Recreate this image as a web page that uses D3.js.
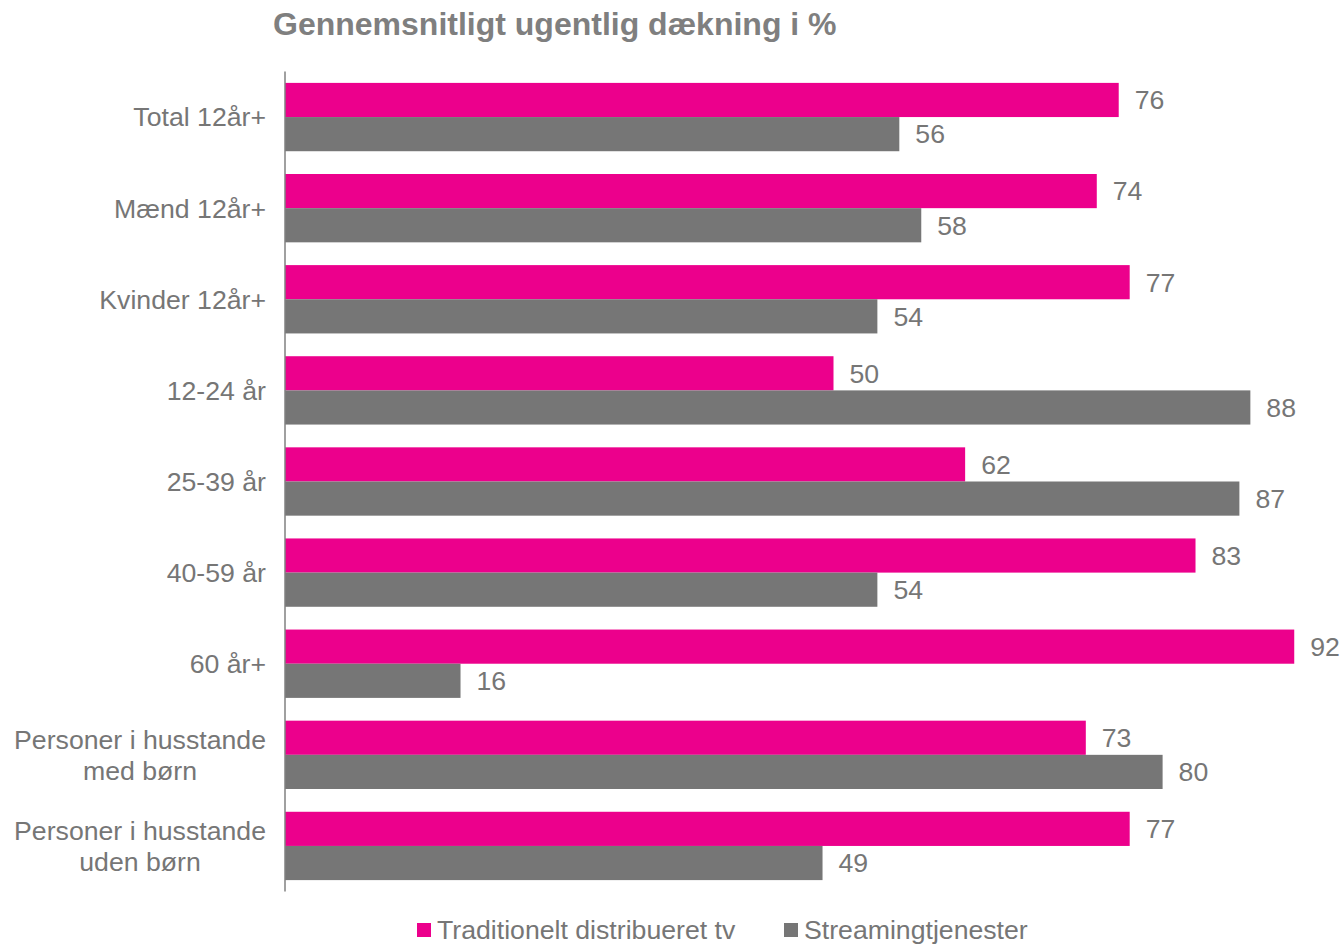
<!DOCTYPE html>
<html>
<head>
<meta charset="utf-8">
<script src="https://cdn.jsdelivr.net/npm/d3@7"></script>
<style>
  html, body { margin: 0; padding: 0; background: #ffffff; }
  svg { display: block; font-family: "Liberation Sans", Arial, sans-serif; }
</style>
</head>
<body>
<svg id="chart" width="1342" height="944"></svg>
<script>
// Categories (label lines) and the two series, in percent
const categories = [
  ["Total 12år+"],
  ["Mænd 12år+"],
  ["Kvinder 12år+"],
  ["12-24 år"],
  ["25-39 år"],
  ["40-59 år"],
  ["60 år+"],
  ["Personer i husstande", "med børn"],
  ["Personer i husstande", "uden børn"]
];
const traditionelTv = [76, 74, 77, 50, 62, 83, 92, 73, 77];
const streaming     = [56, 58, 54, 88, 87, 54, 16, 80, 49];
const seriesNames = ["Traditionelt distribueret tv", "Streamingtjenester"];
const titleText = "Gennemsnitligt ugentlig dækning i %";

const colors = ["#EC008C", "#767676"];
const textColor = "#767676";

const svg = d3.select("#chart");

const plotLeft = 285, plotTop = 71.5, plotBottom = 891.5;

const x = d3.scaleLinear().domain([0, 96]).range([plotLeft, plotLeft + 96 * 10.97]);
const y = d3.scaleBand()
  .domain(d3.range(categories.length))
  .range([plotTop, plotBottom])
  .paddingInner(0.25)
  .paddingOuter(0.125);
const ySub = d3.scaleBand().domain([0, 1]).range([0, y.bandwidth()]);

// Title
svg.append("text")
  .attr("x", 273).attr("y", 35)
  .attr("font-size", 32).attr("font-weight", "bold")
  .attr("fill", "#7F7F7F")
  .text(titleText);

const rows = categories.map((c, i) => ({ i, label: c, vals: [traditionelTv[i], streaming[i]] }));

// Bars
const g = svg.append("g");
const group = g.selectAll("g.row").data(rows).join("g")
  .attr("class", "row")
  .attr("transform", d => `translate(0,${y(d.i)})`);

group.selectAll("rect").data(d => d.vals.map((v, k) => ({ v, k }))).join("rect")
  .attr("x", x(0))
  .attr("y", d => ySub(d.k))
  .attr("width", d => x(d.v) - x(0))
  .attr("height", ySub.bandwidth())
  .attr("fill", d => colors[d.k]);

// Value labels
group.selectAll("text.val").data(d => d.vals.map((v, k) => ({ v, k }))).join("text")
  .attr("class", "val")
  .attr("x", d => x(d.v) + 16)
  .attr("y", d => ySub(d.k) + ySub.bandwidth() / 2)
  .attr("dy", "0.35em")
  .attr("font-size", 26.67)
  .attr("fill", textColor)
  .text(d => d.v);

// Vertical axis line
const axis = d3.axisLeft(y).tickSize(0).tickFormat(() => "");
const axisG = svg.append("g").attr("transform", `translate(${plotLeft},0)`).call(axis);
axisG.select(".domain").attr("stroke", "#808080").attr("stroke-width", 1.5)
  .attr("d", `M0,${plotTop}V${plotBottom}`);

// Category labels (multi-line labels are centred as a block, right aligned to the axis)
const labelRight = 266;
const lineH = 31;
rows.forEach(d => {
  const cy = y(d.i) + y.bandwidth() / 2;
  const t = svg.append("text")
    .attr("font-size", 26.67)
    .attr("fill", textColor);
  const n = d.label.length;
  const spans = d.label.map((line, j) => t.append("tspan")
    .attr("y", cy + (j - (n - 1) / 2) * lineH)
    .attr("dy", "0.35em")
    .text(line));
  if (n === 1) {
    t.attr("text-anchor", "end");
    spans[0].attr("x", labelRight);
  } else {
    const widths = spans.map(s => s.node().getComputedTextLength());
    const cx = labelRight - d3.max(widths) / 2;
    t.attr("text-anchor", "middle");
    spans.forEach(s => s.attr("x", cx));
  }
});

// Legend
const legendItems = [
  { name: seriesNames[0], color: colors[0], x: 417 },
  { name: seriesNames[1], color: colors[1], x: 784 }
];
const lg = svg.append("g").selectAll("g").data(legendItems).join("g");
lg.append("rect")
  .attr("x", d => d.x).attr("y", 923)
  .attr("width", 14).attr("height", 14)
  .attr("fill", d => d.color);
lg.append("text")
  .attr("x", d => d.x + 20).attr("y", 939)
  .attr("font-size", 26.67)
  .attr("fill", textColor)
  .text(d => d.name);
</script>
</body>
</html>
